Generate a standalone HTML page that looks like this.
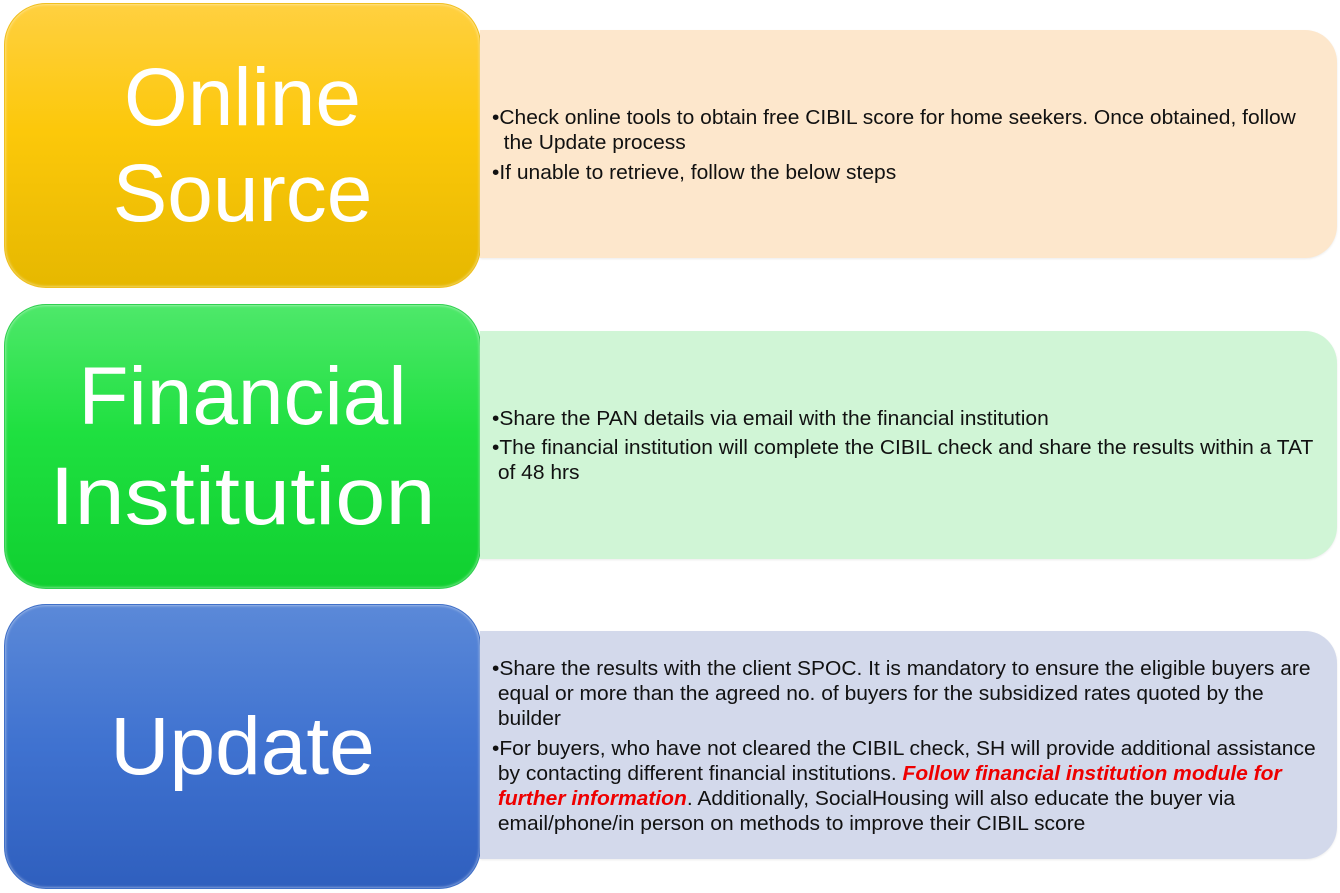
<!DOCTYPE html>
<html><head><style>
body{margin:0;width:1340px;height:893px;background:#fff;position:relative;overflow:hidden;font-family:"Liberation Sans",sans-serif}
.l{position:absolute;left:4px;width:477px;height:285px;border-radius:42px;box-sizing:border-box;color:#fff;text-align:center;font-size:82px;line-height:96px;display:flex;flex-direction:column;justify-content:center;box-shadow:inset 0 0 3px rgba(255,255,255,.7)}
.r{position:absolute;left:480px;width:857px;height:228px;border-radius:0 32px 32px 0;box-sizing:border-box;box-shadow:0 1px 2px rgba(0,0,0,.08)}
.t{position:absolute;left:492px;font-size:20px;color:#111;white-space:nowrap;transform:scaleX(1.05);transform-origin:0 0;line-height:25px}
.red{color:#e00;font-weight:bold;font-style:italic}
</style></head><body>
<div class="l" style="top:3px;background:linear-gradient(#ffd040,#fcc80a 45%,#e6b800);border:1px solid #f0c020"><div>Online</div><div>Source</div></div>
<div class="r" style="top:30px;background:#fde7cc"></div>
<div class="t" style="top:106px">•Check online tools to obtain free CIBIL score for home seekers. Once obtained, follow<br>&nbsp;&nbsp;the Update process</div>
<div class="t" style="top:161px">•If unable to retrieve, follow the below steps</div>

<div class="l" style="top:304px;background:linear-gradient(#4ee86a,#1fe040 45%,#10d030);border:1px solid #30d050;line-height:100px"><div>Financial</div><div style="transform:scaleX(1.1)">Institution</div></div>
<div class="r" style="top:331px;background:#d0f5d6"></div>
<div class="t" style="top:407px">•Share the PAN details via email with the financial institution</div>
<div class="t" style="top:436px">•The financial institution will complete the CIBIL check and share the results within a TAT<br>&nbsp;of 48 hrs</div>

<div class="l" style="top:604px;background:linear-gradient(#5b89d8,#3f72d0 50%,#2f5fbe);border:1px solid #4070c8"><div>Update</div></div>
<div class="r" style="top:631px;background:#d3d9eb"></div>
<div class="t" style="top:657px">•Share the results with the client SPOC. It is mandatory to ensure the eligible buyers are<br>&nbsp;equal or more than the agreed no. of buyers for the subsidized rates quoted by the<br>&nbsp;builder</div>
<div class="t" style="top:737px">•For buyers, who have not cleared the CIBIL check, SH will provide additional assistance<br>&nbsp;by contacting different financial institutions. <span class="red">Follow financial institution module for</span><br>&nbsp;<span class="red">further information</span>. Additionally, SocialHousing will also educate the buyer via<br>&nbsp;email/phone/in person on methods to improve their CIBIL score</div>
</body></html>
